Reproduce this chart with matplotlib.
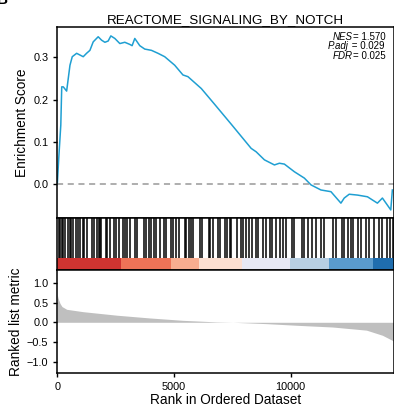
import matplotlib
matplotlib.use("Agg")
import matplotlib.pyplot as plt

plt.rcParams["font.family"] = ["Liberation Sans", "DejaVu Sans"]

title = "REACTOME_SIGNALING_BY_NOTCH"
n_genes = 14430

# running enrichment score
es_rank = [0, 60, 150, 190, 256, 400, 543, 641, 829, 970, 1111, 1254, 1398,
           1539, 1752, 1897, 2039, 2180, 2295, 2466, 2680, 2893, 3107, 3206,
           3321, 3535, 3748, 4035, 4317, 4603, 5031, 5385, 5599, 6172, 6740,
           7454, 8309, 8522, 8877, 9305, 9518, 9732, 10160, 10588, 10873,
           11300, 11728, 12155, 12297, 12510, 12865, 13292, 13719, 13933,
           14292, 14360]
es_score = [0.0, 0.06, 0.14, 0.23, 0.230, 0.220, 0.281, 0.301, 0.309, 0.305,
            0.301, 0.309, 0.316, 0.336, 0.348, 0.340, 0.335, 0.338, 0.350,
            0.344, 0.332, 0.335, 0.330, 0.327, 0.344, 0.327, 0.319, 0.316,
            0.309, 0.301, 0.281, 0.258, 0.254, 0.226, 0.189, 0.142, 0.085,
            0.077, 0.058, 0.046, 0.050, 0.048, 0.030, 0.015, -0.001, -0.013,
            -0.017, -0.044, -0.032, -0.023, -0.025, -0.029, -0.044, -0.032,
            -0.060, -0.013]

# positions of gene-set members in the ranked list
hit_rank = [57, 114, 185, 256, 342, 470, 541, 584, 684, 798, 898, 969, 1083,
            1154, 1282, 1468, 1567, 1681, 1767, 1824, 1881, 2080, 2151, 2251,
            2436, 2508, 2650, 2821, 2893, 3007, 3106, 3320, 3420, 3705, 3819,
            3919, 4033, 4161, 4246, 4389, 4588, 4674, 4888, 4959, 5073, 5201,
            5458, 5529, 5629, 5743, 5814, 6099, 6184, 6484, 6555, 6669, 6883,
            6954, 7168, 7282, 7381, 7453, 7695, 7880, 7966, 8094, 8236, 8351,
            8522, 8621, 8807, 8949, 9120, 9206, 9377, 9548, 9662, 9804, 10046,
            10160, 10488, 10588, 10730, 10901, 11087, 11300, 11443, 11799,
            11942, 12198, 12298, 12440, 12583, 12683, 12868, 13010, 13224,
            13367, 13580, 13794, 13937, 14150, 14250, 14393]

# colour strip segments (rank boundaries and colours)
strip_edges = [0, 2750, 4888, 6070, 7923, 9975, 11657, 13538, n_genes]
strip_colors = ["#cf3431", "#ee7357", "#f8ad90", "#fcdfd1", "#e7e8f4",
                "#b7cfe3", "#5a9bcd", "#1f6dae"]

# ranked list metric
metric_rank = [0, 30, 115, 200, 402, 1098, 2551, 3962, 5372, 6825, 7522, 8975,
               10385, 11795, 13248, 13932, 14360, n_genes]
metric_val = [0.70, 0.62, 0.48, 0.40, 0.33, 0.27, 0.18, 0.11, 0.05, 0.01, 0.0,
              -0.035, -0.08, -0.12, -0.2, -0.33, -0.46, -0.48]

stat_names = ["NES", "P.adj", "FDR"]
stat_values = ["= 1.570", " = 0.029", "= 0.025"]

W, H = 394, 409
fig = plt.figure(figsize=(W / 100, H / 100), dpi=100)


def box(top, bottom, left=57.3, right=394):
    return [left / W, 1 - bottom / H, (right - left) / W, (bottom - top) / H]


ax1 = fig.add_axes(box(27, 218))
ax2 = fig.add_axes(box(218, 270))
ax3 = fig.add_axes(box(270, 373))

for ax in (ax1, ax2, ax3):
    ax.set_xlim(0, n_genes)
    for s in ax.spines.values():
        s.set_linewidth(1.1)
    ax.tick_params(labelsize=7.8, width=1, length=3, colors="black")

# top: running ES
ax1.plot(es_rank, es_score, color="#1f9fd2", lw=1.1)
ax1.axhline(0, color="#999999", lw=1.1, ls=(0, (4, 3)))
ax1.set_ylim(-0.079, 0.371)
ax1.set_yticks([0.0, 0.1, 0.2, 0.3])
ax1.set_xticks([])
ax1.set_ylabel("Enrichment Score", fontsize=9.8, labelpad=3)
ax1.set_title(title, fontsize=9.6, pad=3)
name_x = [0.878, 0.866, 0.878]
for i, (nm, val) in enumerate(zip(stat_names, stat_values)):
    y = 0.948 - i * 0.05
    ax1.text(name_x[i], y, nm, transform=ax1.transAxes, ha="right",
             va="center", fontsize=7, style="italic")
    ax1.text(name_x[i], y, val, transform=ax1.transAxes, ha="left",
             va="center", fontsize=7)

# middle: hits and colour strip
ax2.vlines(hit_rank, 0.23, 1, color="black", lw=1.1)
for i, c in enumerate(strip_colors):
    ax2.axvspan(strip_edges[i], strip_edges[i + 1], 0, 0.23, color=c, lw=0)
ax2.set_ylim(0, 1)
ax2.set_xticks([])
ax2.set_yticks([])

# bottom: ranked list metric
ax3.fill_between(metric_rank, metric_val, 0, color="#bfbfbf", lw=0)
ax3.set_ylim(-1.29, 1.33)
ax3.set_yticks([-1.0, -0.5, 0.0, 0.5, 1.0])
ax3.set_xticks([0, 5000, 10000])
ax3.set_ylabel("Ranked list metric", fontsize=9.8, labelpad=3)
ax3.set_xlabel("Rank in Ordered Dataset", fontsize=9.8, labelpad=1)

fig.text(-0.008, 1.0, "B", fontsize=11, fontweight="bold", ha="left", va="center")

fig.savefig("out.png", dpi=100)
